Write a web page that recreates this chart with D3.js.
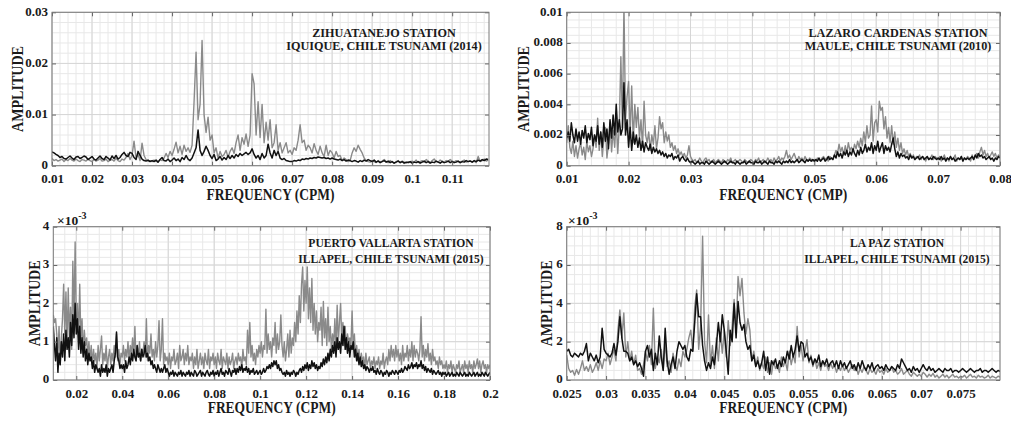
<!DOCTYPE html>
<html><head><meta charset="utf-8">
<script src="https://cdn.jsdelivr.net/npm/d3@7"></script>
<style>
body{margin:0;background:#fff}
svg{display:block}
text{font-family:"Liberation Serif","Times New Roman",serif;font-weight:bold;fill:#1a1a1a}
</style>
</head><body>
<svg id="c" width="1011" height="421"></svg>
<script>
// ---------- DATA (amplitudes in units of 1e-3, spectral bins start/step in CPM) ----------
// Panel 1: Zihuatanejo, Iquique 2014
const p1Start = 0.01, p1Step = 0.0005;
const p1Gray = [
1.4,1.0,1.2,0.9,1.1,1.3,0.8,1.2,1.0,1.4,
1.1,0.9,1.3,1.0,0.8,1.2,1.1,0.9,1.3,1.0,
0.8,1.2,0.9,1.1,1.4,0.9,1.0,1.3,0.8,1.1,
1.2,0.9,1.5,1.0,0.8,1.3,1.1,1.6,2.4,1.2,
2.0,4.8,1.5,2.2,1.0,4.4,2.0,1.2,0.9,1.0,
0.8,1.1,0.9,0.7,1.2,1.0,1.5,2.4,1.6,2.8,
2.0,3.2,4.6,2.5,3.8,2.2,4.0,2.8,3.5,2.6,
4.0,12.5,22.2,9.0,12.0,24.5,10.0,6.5,9.5,5.0,
6.0,2.5,3.5,1.5,2.8,1.8,2.2,3.0,1.6,2.8,
3.5,2.4,4.5,6.0,3.0,5.5,4.2,6.2,3.8,6.0,
18.0,16.0,6.0,12.5,5.5,12.0,4.5,8.5,5.0,9.0,
3.5,4.5,8.0,3.0,4.5,2.5,3.5,4.5,2.5,3.0,
2.2,3.5,3.0,5.0,8.0,4.5,5.0,3.0,4.0,3.5,
2.5,4.3,3.0,2.2,3.8,2.5,1.8,4.0,2.0,3.0,
2.5,1.5,2.8,1.8,2.0,1.0,1.5,1.2,0.8,1.0,
2.5,3.5,2.8,4.0,3.2,2.5,1.5,1.0,0.8,0.7,
1.0,0.8,0.6,1.0,0.7,0.9,1.2,0.8,0.6,1.0,
0.7,0.5,0.8,1.0,0.6,0.9,0.7,0.5,0.8,0.6,
0.9,0.7,1.1,0.6,0.8,1.0,0.7,1.2,0.9,0.6,
1.0,1.3,0.8,0.7,1.1,0.9,0.6,1.0,0.8,1.2,
0.9,0.7,1.0,0.8,0.6,0.9,1.1,0.7,0.8,1.0,
0.7,0.9,0.6,1.8,0.8,1.0,1.3,0.9,1.1];
const p1Black = [
2.7,2.5,2.2,2.0,1.6,1.8,1.4,1.3,1.6,1.9,
1.5,1.2,1.7,1.8,1.4,1.6,1.9,1.7,1.2,1.5,
1.8,1.3,1.1,1.5,1.9,1.4,1.2,1.8,1.5,1.1,
1.9,1.4,2.0,1.3,1.6,2.2,2.6,2.0,1.8,2.6,
2.4,1.6,1.2,2.8,2.0,1.3,1.0,0.9,1.1,0.8,
1.0,0.8,1.1,0.7,1.2,1.6,1.0,0.9,1.3,0.8,
1.1,1.5,1.0,1.3,0.8,1.6,1.2,2.0,1.3,1.0,
1.5,2.5,3.5,7.0,3.0,2.0,2.8,3.8,3.0,2.0,
1.4,2.2,1.0,1.3,1.8,1.1,1.6,1.2,2.0,1.4,
2.0,1.5,2.2,1.8,2.4,2.0,2.3,2.6,2.2,2.5,
3.3,2.2,1.5,2.0,1.2,2.4,1.5,2.0,4.2,2.5,
1.5,3.0,2.0,2.8,1.5,1.2,1.4,1.0,0.9,0.8,
0.8,1.0,0.9,1.1,1.0,1.3,1.2,1.4,1.3,1.5,
1.4,1.6,1.5,1.7,1.6,1.5,1.6,1.4,1.5,1.3,
1.5,1.3,1.2,1.1,1.3,1.0,1.2,0.9,1.1,1.0,
0.8,1.0,0.9,0.7,1.0,0.8,1.1,0.9,1.2,1.0,
0.8,1.1,0.7,0.9,0.6,0.8,1.0,0.7,0.9,0.6,
0.8,0.5,0.7,0.9,0.6,0.8,0.5,0.7,0.6,0.8,
0.5,0.7,0.6,0.8,0.5,0.7,0.9,0.6,0.8,0.5,
0.7,0.6,0.9,0.7,0.5,0.8,0.6,0.7,0.9,0.6,
0.8,0.6,0.7,0.9,0.6,0.8,0.7,1.0,0.8,0.9,
0.7,1.0,0.8,1.1,0.9,1.2,1.0,1.3,1.2];
const p1XTicks = [0.01,0.02,0.03,0.04,0.05,0.06,0.07,0.08,0.09,0.1,0.11];
const p1YTicks = [0,10,20,30];

// Panel 2: Lazaro Cardenas, Maule 2010
const p2Start = 0.01, p2Step = 0.00025;
const p2Gray = [
1.5,2.6,1.2,0.8,1.6,0.6,1.3,0.5,1.1,1.5,0.7,1.2,0.4,1.6,0.9,1.3,0.6,1.1,2.0,1.2,
3.1,1.0,2.2,0.6,1.8,2.5,0.5,1.4,2.8,0.9,2.3,1.2,3.0,0.8,2.6,7.1,2.5,10.5,3.0,4.5,
5.5,2.0,5.2,1.5,4.0,2.5,3.8,1.8,3.0,1.2,4.2,2.0,1.5,2.2,1.0,2.0,1.4,2.6,1.1,1.8,
3.2,2.4,2.8,1.5,2.2,1.6,2.0,1.2,1.5,1.0,1.3,0.8,1.1,0.7,0.9,0.6,0.8,0.5,0.7,1.3,
0.6,0.4,0.3,0.4,0.2,0.3,0.5,0.3,0.2,0.4,0.5,0.3,0.4,0.2,0.3,0.4,0.2,0.3,0.4,0.3,
0.2,0.4,0.3,0.2,0.4,0.3,0.5,0.2,0.3,0.4,0.2,0.3,0.4,0.3,0.2,0.4,0.3,0.2,0.3,0.4,
0.3,0.2,0.4,0.3,0.5,0.2,0.3,0.4,0.2,0.3,0.5,0.3,0.4,0.2,0.5,0.3,0.4,0.6,0.3,0.5,
0.4,0.6,1.0,0.5,0.7,0.4,0.6,0.8,0.5,0.3,0.6,0.4,0.5,0.3,0.6,0.4,0.3,0.5,0.4,0.3,
0.4,0.3,0.5,0.4,0.3,0.5,0.6,0.4,0.5,0.3,0.6,0.5,0.4,0.7,1.0,0.8,1.4,0.9,1.2,0.7,
1.3,0.8,1.5,1.0,1.2,0.9,1.4,1.1,1.6,1.2,1.8,1.3,2.2,1.5,2.6,1.8,2.0,3.9,1.6,2.8,
3.0,2.2,4.2,3.6,3.8,2.4,3.2,1.8,2.5,1.5,2.6,1.4,2.2,1.2,1.8,1.0,1.5,0.8,1.1,0.7,
1.0,0.6,0.8,0.5,0.7,0.4,0.6,0.5,0.7,0.4,0.6,0.5,0.3,0.6,0.4,0.5,0.7,0.4,0.6,0.5,
0.4,0.6,0.3,0.5,0.7,0.4,0.5,0.3,0.6,0.4,0.5,0.7,0.3,0.5,0.4,0.6,0.3,0.5,0.4,0.6,
0.5,0.3,0.7,0.4,0.6,0.8,0.5,0.9,1.2,0.7,1.0,0.6,0.8,0.5,0.7,0.9,0.6,0.8,0.5,0.7,
0.6];
const p2Black = [
1.8,2.2,1.6,2.8,2.0,1.5,2.4,1.6,2.2,1.4,2.3,1.8,2.6,1.5,2.1,1.7,2.5,1.3,2.0,1.6,
2.6,1.4,2.2,1.2,2.8,1.6,2.4,1.1,3.0,1.8,3.3,2.0,4.0,2.2,3.0,2.0,2.4,5.4,2.0,3.0,
1.2,2.5,1.0,2.2,1.4,2.0,1.2,1.8,1.0,1.6,0.9,1.5,1.2,1.0,1.4,0.8,1.2,0.9,1.1,0.8,
1.0,0.7,0.9,0.6,0.8,0.5,0.7,0.6,0.8,0.4,0.6,0.5,0.7,0.3,0.5,0.6,0.4,0.3,0.5,0.3,
0.2,0.3,0.2,0.1,0.2,0.3,0.1,0.2,0.2,0.1,0.3,0.2,0.1,0.2,0.3,0.2,0.1,0.2,0.3,0.2,
0.1,0.2,0.3,0.2,0.1,0.2,0.3,0.2,0.2,0.1,0.3,0.2,0.1,0.2,0.2,0.3,0.1,0.2,0.3,0.2,
0.2,0.1,0.3,0.2,0.2,0.3,0.1,0.2,0.3,0.2,0.1,0.3,0.2,0.2,0.1,0.3,0.2,0.3,0.2,0.1,
0.3,0.2,0.3,0.2,0.4,0.2,0.3,0.2,0.3,0.4,0.2,0.3,0.4,0.3,0.2,0.4,0.3,0.4,0.3,0.4,
0.3,0.4,0.3,0.5,0.3,0.4,0.5,0.3,0.4,0.6,0.4,0.5,0.4,0.7,0.5,0.9,0.6,0.8,0.5,0.9,
0.7,1.0,0.6,0.9,0.7,1.1,0.8,0.6,1.0,0.7,1.2,0.8,1.0,1.4,0.9,1.2,1.0,1.5,0.8,1.3,
1.0,1.6,0.9,1.2,1.5,0.8,1.3,1.0,1.2,0.9,1.4,1.8,1.1,0.6,0.9,0.5,0.8,0.6,0.7,0.5,
0.6,0.4,0.7,0.5,0.6,0.4,0.5,0.6,0.4,0.5,0.6,0.4,0.5,0.6,0.4,0.5,0.4,0.6,0.5,0.4,
0.5,0.4,0.6,0.4,0.5,0.3,0.5,0.4,0.6,0.4,0.5,0.3,0.4,0.5,0.4,0.6,0.3,0.5,0.4,0.5,
0.4,0.5,0.6,0.4,0.7,0.5,0.8,0.6,0.7,0.5,0.6,0.4,0.5,0.6,0.4,0.5,0.3,0.5,0.4,0.6,
0.5];
const p2XTicks = [0.01,0.02,0.03,0.04,0.05,0.06,0.07,0.08];
const p2YTicks = [0,2,4,6,8,10];

// Panel 3: Puerto Vallarta, Illapel 2015
const p3Start = 0.01, p3Step = 0.0005;
const p3Gray = [
1.7,1.5,1.6,1.2,0.6,1.4,0.4,1.1,1.6,2.5,1.2,2.3,0.9,2.4,1.1,1.9,0.8,3.1,1.5,3.6,
1.5,2.0,1.1,2.5,1.0,1.6,0.7,1.3,0.9,1.1,0.6,1.0,0.5,0.9,0.4,0.8,0.5,0.7,0.3,0.9,
0.5,0.8,1.15,0.4,0.7,0.5,0.9,0.3,0.6,0.8,0.4,0.7,0.5,0.9,0.6,1.2,0.5,0.8,0.4,0.7,
0.6,0.9,0.5,0.8,0.6,1.0,0.5,0.9,0.7,1.1,0.6,1.4,0.5,0.9,0.6,1.0,0.5,0.8,0.7,1.0,
0.6,1.6,0.5,0.9,0.7,1.2,0.6,0.8,0.5,1.0,0.6,0.9,1.55,0.5,0.8,1.6,0.4,0.7,0.5,0.6,
0.4,0.7,0.3,0.6,0.5,0.8,0.4,0.5,0.7,0.3,0.9,0.5,0.6,0.8,0.4,0.7,0.5,0.9,0.4,0.6,
0.5,0.7,0.3,0.6,0.4,0.8,0.3,0.5,0.7,0.4,0.6,0.3,0.7,0.5,0.4,0.8,0.3,0.6,0.5,0.7,
0.4,0.6,0.3,0.7,0.5,0.4,0.8,0.3,0.6,0.5,0.4,0.7,0.3,0.6,0.4,0.5,0.7,0.3,0.5,0.6,
0.4,0.7,0.5,0.6,0.3,0.8,0.5,0.6,0.4,1.3,0.7,1.5,0.6,0.9,0.5,0.7,0.4,0.8,0.6,0.9,
0.7,1.0,0.6,0.9,0.8,1.85,0.7,1.2,0.8,1.0,0.6,1.1,0.9,1.5,0.7,1.2,0.8,1.0,1.7,0.9,
0.6,1.0,0.5,0.8,1.2,0.6,1.3,0.7,1.1,0.9,1.5,1.0,1.8,1.2,2.2,1.5,2.5,2.95,1.8,2.6,
2.0,2.95,1.6,2.4,1.5,2.65,1.3,2.0,1.2,1.8,1.0,1.5,1.3,1.9,0.9,2.05,1.1,1.6,0.9,1.9,
1.0,1.4,0.8,1.2,0.9,1.6,0.8,1.95,1.0,1.5,2.0,1.1,1.5,0.9,1.4,0.8,1.2,1.0,1.1,0.9,
1.8,0.8,1.2,0.6,0.9,0.5,0.8,0.4,0.7,0.5,0.6,0.3,0.7,0.4,0.5,0.6,0.3,0.5,0.4,0.6,
0.3,0.5,0.4,0.6,0.3,0.5,0.4,0.7,0.3,0.5,0.6,0.4,0.8,0.5,0.9,0.6,0.8,0.5,0.9,0.6,
0.8,0.5,0.7,0.4,0.9,0.5,0.7,0.6,0.9,0.5,0.8,0.6,1.0,0.5,0.9,0.6,0.8,0.7,0.5,0.8,
1.65,0.6,0.9,0.5,0.8,0.6,0.95,0.5,0.7,0.4,0.8,0.5,0.6,0.4,0.5,0.3,0.6,0.4,0.5,0.3,
0.4,0.3,0.5,0.2,0.4,0.3,0.5,0.2,0.4,0.3,0.2,0.4,0.3,0.5,0.2,0.3,0.4,0.2,0.5,0.3,
0.4,0.2,0.5,0.3,0.4,0.2,0.5,0.3,0.4,0.55,0.3,0.5,0.2,0.4,0.5,0.3,0.4,0.2,0.4,0.3,
0.4];
const p3Black = [
1.4,0.9,0.5,1.1,0.2,0.7,0.4,1.0,0.6,1.2,0.5,1.3,0.8,1.1,0.6,1.5,0.9,1.7,1.1,2.0,
1.2,1.6,0.8,1.4,0.7,1.1,0.6,1.0,0.5,0.8,0.4,0.7,0.5,0.6,0.3,0.5,0.2,0.4,0.3,0.2,
0.3,0.1,0.4,0.2,0.3,0.2,0.4,0.1,0.3,0.2,0.3,0.4,0.2,0.5,0.7,1.25,0.6,0.5,0.3,0.4,
0.3,0.4,0.2,0.5,0.3,0.4,0.6,0.4,0.7,0.5,0.8,0.6,0.5,0.9,0.6,0.7,0.5,0.8,0.6,0.7,
0.9,0.6,0.7,0.5,0.6,0.4,0.5,0.3,0.4,0.3,0.2,0.4,0.3,0.2,0.3,0.2,0.3,0.4,0.2,0.3,
0.2,0.1,0.2,0.15,0.25,0.1,0.2,0.15,0.1,0.2,0.15,0.25,0.1,0.2,0.15,0.1,0.2,0.15,0.25,0.1,
0.2,0.15,0.1,0.25,0.2,0.1,0.15,0.2,0.25,0.1,0.2,0.15,0.1,0.2,0.25,0.15,0.1,0.2,0.15,0.25,
0.1,0.2,0.15,0.25,0.1,0.2,0.3,0.15,0.2,0.1,0.25,0.2,0.15,0.3,0.2,0.1,0.25,0.2,0.3,0.15,
0.3,0.2,0.35,0.25,0.4,0.2,0.3,0.25,0.35,0.2,0.3,0.15,0.25,0.2,0.3,0.15,0.2,0.25,0.15,0.2,
0.25,0.15,0.2,0.3,0.2,0.25,0.35,0.3,0.4,0.3,0.45,0.35,0.5,0.4,0.5,0.3,0.4,0.25,0.3,0.2,
0.15,0.2,0.1,0.25,0.15,0.2,0.1,0.2,0.15,0.25,0.2,0.1,0.2,0.15,0.25,0.3,0.2,0.35,0.25,0.4,
0.3,0.45,0.25,0.4,0.3,0.5,0.35,0.45,0.3,0.4,0.25,0.35,0.3,0.45,0.35,0.55,0.4,0.6,0.45,0.7,
0.5,0.8,0.6,0.9,0.7,1.0,0.6,1.1,0.8,1.0,0.7,1.2,0.9,1.4,0.8,1.1,0.7,1.0,0.6,0.9,
0.8,1.0,0.6,0.8,0.5,0.7,0.4,0.6,0.35,0.5,0.3,0.4,0.25,0.35,0.3,0.2,0.3,0.25,0.35,0.2,
0.25,0.15,0.3,0.2,0.15,0.25,0.2,0.1,0.2,0.15,0.25,0.2,0.1,0.2,0.15,0.25,0.2,0.15,0.25,0.2,
0.15,0.25,0.2,0.3,0.2,0.25,0.35,0.3,0.25,0.4,0.3,0.35,0.45,0.3,0.4,0.35,0.45,0.3,0.4,0.35,
0.5,0.3,0.4,0.25,0.35,0.2,0.3,0.25,0.2,0.3,0.15,0.25,0.2,0.15,0.2,0.25,0.15,0.2,0.1,0.2,
0.15,0.2,0.1,0.15,0.2,0.1,0.15,0.2,0.1,0.15,0.1,0.2,0.15,0.1,0.2,0.15,0.1,0.15,0.2,0.1,
0.15,0.1,0.2,0.15,0.1,0.15,0.2,0.1,0.15,0.2,0.1,0.15,0.1,0.2,0.15,0.1,0.2,0.15,0.1,0.15,
0.2];
const p3XTicks = [0.02,0.04,0.06,0.08,0.1,0.12,0.14,0.16,0.18,0.2];
const p3YTicks = [0,1,2,3,4];

// Panel 4: La Paz, Illapel 2015
const p4Start = 0.025, p4Step = 0.00025;
const p4Gray = [
1.3,0.6,0.4,0.5,0.25,0.55,0.3,0.6,1.0,0.5,0.7,0.45,0.8,0.4,0.6,0.9,0.5,1.0,0.6,1.1,
1.0,1.4,0.8,1.2,1.6,1.0,2.6,3.65,2.2,3.5,1.2,2.0,1.0,1.5,0.8,1.3,0.5,0.6,0.3,0.8,
1.5,1.0,1.8,0.8,3.75,0.6,1.2,0.9,1.6,0.5,2.0,0.7,1.0,0.4,1.4,0.8,0.5,1.1,0.7,1.5,
1.2,1.6,2.2,2.6,1.5,3.8,4.7,1.6,2.8,7.5,2.0,0.9,3.4,0.8,1.8,0.6,2.2,1.0,2.5,1.4,
2.6,1.2,3.1,1.8,2.8,4.2,2.5,5.4,4.4,5.3,3.5,2.4,3.2,2.6,1.0,1.5,0.7,1.2,0.5,0.9,
0.6,1.2,0.4,0.9,0.3,1.0,0.6,0.8,0.4,1.2,0.7,1.0,0.5,1.5,0.8,1.3,0.9,2.8,1.2,1.8,
1.0,1.5,2.1,0.9,1.3,0.7,1.1,0.6,0.9,0.5,1.0,0.7,0.8,0.5,0.9,0.6,0.8,0.4,0.7,0.5,
0.8,0.5,0.7,0.4,0.6,0.8,0.5,0.7,0.3,0.6,0.4,0.7,0.5,0.3,0.6,0.4,0.5,0.3,0.6,0.4,
0.5,0.3,0.6,0.4,0.5,0.7,0.4,0.5,0.3,0.4,0.6,0.3,0.4,0.5,0.3,0.2,0.4,0.3,0.2,0.3,
0.2,0.4,0.3,0.15,0.3,0.2,0.35,0.15,0.25,0.1,0.2,0.3,0.15,0.25,0.1,0.2,0.3,0.15,0.2,0.1,
0.2,0.15,0.25,0.1,0.2,0.3,0.15,0.2,0.1,0.25,0.15,0.2,0.1,0.15,0.25,0.1,0.2,0.15,0.1,0.2,
0.15];
const p4Black = [
1.5,1.6,1.3,1.2,1.4,1.3,1.2,1.4,1.3,1.5,1.9,1.0,1.4,1.2,1.0,1.3,0.9,1.2,2.7,1.6,
1.4,1.3,1.2,1.4,1.9,1.3,2.0,3.3,2.2,1.5,1.5,1.4,1.0,1.2,0.8,1.0,0.7,0.9,0.6,0.2,
1.5,1.8,1.2,1.6,0.5,1.4,0.8,2.3,1.2,0.5,2.7,1.0,0.3,0.8,1.2,0.6,1.5,2.0,1.8,1.6,
1.8,1.2,1.0,1.6,1.5,3.0,4.5,3.3,3.3,1.8,1.0,0.5,0.9,0.6,1.2,0.8,1.8,3.0,2.0,3.4,
2.6,1.5,0.3,2.6,2.0,4.0,2.2,4.1,3.0,2.6,2.9,2.0,1.6,1.8,1.0,1.3,0.7,1.0,0.6,0.9,
1.5,0.5,1.2,0.3,1.0,0.8,1.1,0.6,1.0,0.7,1.2,0.9,1.5,1.1,1.8,1.2,1.6,2.3,1.5,2.0,
1.9,1.2,1.4,1.0,1.2,0.8,1.1,0.9,1.3,0.7,1.0,0.8,1.1,0.7,0.9,1.0,0.7,1.0,0.6,1.0,
0.7,0.9,0.6,0.8,1.0,0.6,0.8,0.5,0.9,0.6,1.0,0.7,0.5,0.8,0.6,0.9,0.5,0.7,0.8,0.6,
0.7,0.5,0.8,0.6,0.5,0.7,0.6,0.5,0.8,0.6,1.1,0.9,0.7,0.5,0.6,0.4,0.7,0.5,0.6,0.4,
0.6,0.8,0.6,0.5,0.7,0.5,0.6,0.4,0.5,0.6,0.5,0.4,0.6,0.5,0.5,0.6,0.4,0.5,0.5,0.4,
0.5,0.6,0.5,0.4,0.5,0.6,0.5,0.4,0.5,0.5,0.6,0.4,0.5,0.5,0.4,0.5,0.6,0.5,0.4,0.5,
0.45];
const p4XTicks = [0.025,0.03,0.035,0.04,0.045,0.05,0.055,0.06,0.065,0.07,0.075];
const p4YTicks = [0,2,4,6,8];

// ---------- RENDERING ----------
const svg = d3.select('#c');
const defs = svg.append('defs');
const milli = d => d === 0 ? '0' : String(+(d / 1000).toPrecision(6));
const plain = d => String(d);

const panels = [
  {id:'p1', box:[52,489,12.3,165.7], xDom:[0.01,0.1192], yDom:[0,30], start:p1Start, step:p1Step,
   gray:p1Gray, black:p1Black, xt:p1XTicks, yt:p1YTicks, xMinor:0.002, yMinor:2, yFmt:milli,
   xTitle:'FREQUENCY (CPM)', xTitleY:200, ampX:23,
   notes:['ZIHUATANEJO STATION','IQUIQUE, CHILE TSUNAMI (2014)'], noteX:384, noteY:[37,50], noteFs:12.2, exp:null},
  {id:'p2', box:[566.7,1000,12.3,165.7], xDom:[0.01,0.08], yDom:[0,10], start:p2Start, step:p2Step,
   gray:p2Gray, black:p2Black, xt:p2XTicks, yt:p2YTicks, xMinor:0.002, yMinor:0.5, yFmt:milli,
   xTitle:'FREQUENCY (CMP)', xTitleY:200, ampX:529,
   notes:['LAZARO CARDENAS STATION','MAULE, CHILE TSUNAMI (2010)'], noteX:898, noteY:[37,50], noteFs:12.2, exp:null},
  {id:'p3', box:[53.3,490,226.7,380], xDom:[0.01,0.2], yDom:[0,4], start:p3Start, step:p3Step,
   gray:p3Gray, black:p3Black, xt:p3XTicks, yt:p3YTicks, xMinor:0.005, yMinor:0.2, yFmt:plain,
   xTitle:'FREQUENCY (CPM)', xTitleY:413, ampX:40,
   notes:['PUERTO VALLARTA STATION','ILLAPEL, CHILE TSUNAMI (2015)'], noteX:391, noteY:[247,263], noteFs:11.6, exp:[57,225]},
  {id:'p4', box:[566.7,1000,226.7,380], xDom:[0.025,0.08], yDom:[0,8], start:p4Start, step:p4Step,
   gray:p4Gray, black:p4Black, xt:p4XTicks, yt:p4YTicks, xMinor:0.001, yMinor:0.5, yFmt:plain,
   xTitle:'FREQUENCY (CPM)', xTitleY:413, ampX:552,
   notes:['LA PAZ STATION','ILLAPEL, CHILE TSUNAMI (2015)'], noteX:897, noteY:[247,263], noteFs:11.6, exp:[568,225]}
];

function gridVals(dom, step){
  const out = [];
  const k0 = Math.ceil(dom[0]/step - 1e-6), k1 = Math.floor(dom[1]/step + 1e-6);
  for (let k = k0; k <= k1; k++) out.push(k*step);
  return out;
}

panels.forEach(p => {
  const [x0,x1,y0,y1] = p.box;
  const x = d3.scaleLinear().domain(p.xDom).range([x0,x1]);
  const y = d3.scaleLinear().domain(p.yDom).range([y1,y0]);
  const g = svg.append('g');

  defs.append('clipPath').attr('id','clip-'+p.id)
    .append('rect').attr('x',x0).attr('y',y0).attr('width',x1-x0).attr('height',y1-y0);

  // minor grid
  const mg = g.append('g').attr('stroke','#e8e8e8').attr('stroke-width',1);
  gridVals(p.xDom, p.xMinor).forEach(v => mg.append('line')
    .attr('x1',x(v)).attr('x2',x(v)).attr('y1',y0).attr('y2',y1));
  gridVals(p.yDom, p.yMinor).forEach(v => mg.append('line')
    .attr('x1',x0).attr('x2',x1).attr('y1',y(v)).attr('y2',y(v)));
  // major grid
  const Mg = g.append('g').attr('stroke','#d6d6d6').attr('stroke-width',1);
  p.xt.forEach(v => Mg.append('line').attr('x1',x(v)).attr('x2',x(v)).attr('y1',y0).attr('y2',y1));
  p.yt.forEach(v => Mg.append('line').attr('x1',x0).attr('x2',x1).attr('y1',y(v)).attr('y2',y(v)));

  // series
  const line = d3.line().x((d,i) => x(p.start + i*p.step)).y(d => y(d));
  const lg = g.append('g').attr('clip-path','url(#clip-'+p.id+')').attr('fill','none')
    .attr('stroke-linejoin','round');
  lg.append('path').datum(p.gray).attr('d',line).attr('stroke','#8a8a8a').attr('stroke-width',1.4);
  lg.append('path').datum(p.black).attr('d',line).attr('stroke','#111').attr('stroke-width',1.5);

  // axes
  const fs = '13px';
  const bx = g.append('g').attr('transform',`translate(0,${y1})`)
    .call(d3.axisBottom(x).tickValues(p.xt).tickFormat(plain).tickSizeInner(-4).tickSizeOuter(0).tickPadding(8.5));
  const lx = g.append('g').attr('transform',`translate(${x0},0)`)
    .call(d3.axisLeft(y).tickValues(p.yt).tickFormat(p.yFmt).tickSizeInner(-4).tickSizeOuter(0).tickPadding(4));
  lx.selectAll('text').attr('dy','0.22em');
  const tx = g.append('g').attr('transform',`translate(0,${y0})`)
    .call(d3.axisTop(x).tickValues(p.xt).tickFormat('').tickSizeInner(-4).tickSizeOuter(0));
  const rx = g.append('g').attr('transform',`translate(${x1},0)`)
    .call(d3.axisRight(y).tickValues(p.yt).tickFormat('').tickSizeInner(-4).tickSizeOuter(0));
  [bx,lx,tx,rx].forEach(a => {
    a.select('.domain').remove();
    a.selectAll('line').attr('stroke','#666');
    a.selectAll('text').attr('font-size',fs).attr('fill','#1a1a1a')
      .attr('font-family','"Liberation Serif","Times New Roman",serif').attr('font-weight','bold');
  });
  // box
  g.append('rect').attr('x',x0).attr('y',y0).attr('width',x1-x0).attr('height',y1-y0)
    .attr('fill','none').attr('stroke','#7a7a7a').attr('stroke-width',1);

  // titles
  g.append('text').attr('x',(x0+x1)/2).attr('y',p.xTitleY).attr('text-anchor','middle')
    .attr('font-size','16px').attr('textLength',128).attr('lengthAdjust','spacingAndGlyphs').text(p.xTitle);
  g.append('text').attr('transform',`translate(${p.ampX},${(y0+y1)/2}) rotate(-90)`)
    .attr('text-anchor','middle').attr('font-size','16px')
    .attr('textLength',86).attr('lengthAdjust','spacingAndGlyphs').text('AMPLITUDE');

  p.notes.forEach((t,i) => g.append('text').attr('x',p.noteX).attr('y',p.noteY[i])
    .attr('text-anchor','middle').attr('font-size',p.noteFs+'px').text(t));

  if (p.exp) {
    const t = g.append('text').attr('x',p.exp[0]).attr('y',p.exp[1]).attr('font-size','13.5px')
      .attr('font-weight','normal');
    t.append('tspan').text('×10');
    t.append('tspan').attr('dy',-6).attr('font-size','10px').text('-3');
  }
});
</script>
</body></html>
